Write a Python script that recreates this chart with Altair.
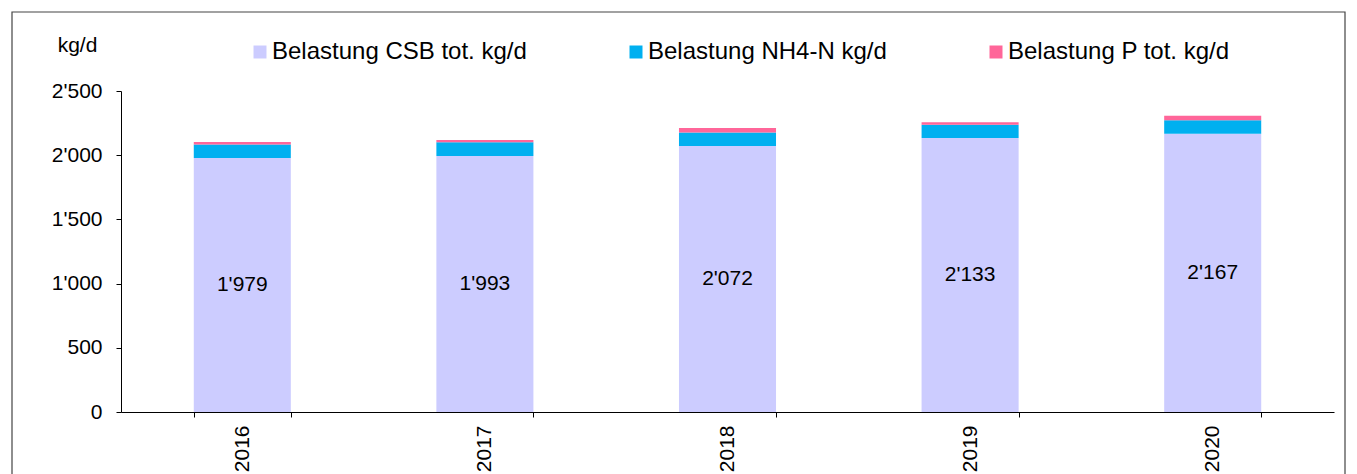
import altair as alt
import pandas as pd

years = ["2016", "2017", "2018", "2019", "2020"]
csb = [1979, 1993, 2072, 2133, 2167]
nh4 = [104, 107, 104, 104, 106]
ptot = [19, 18, 36, 19, 34]

series_names = ["Belastung CSB tot. kg/d", "Belastung NH4-N kg/d", "Belastung P tot. kg/d"]
series_colors = ["#CCCCFF", "#00B0F0", "#FF6699"]

rows = []
for i, y in enumerate(years):
    for k, (name, vals) in enumerate(zip(series_names, [csb, nh4, ptot])):
        rows.append({"year": y, "series": name, "value": vals[i], "ord": k})
df = pd.DataFrame(rows)

lab = pd.DataFrame({
    "year": years,
    "value": csb,
    "label": [f"{v:,}".replace(",", "'") for v in csb],
})

FONT = "Liberation Sans"

x_enc = alt.X(
    "year:N",
    sort=years,
    scale=alt.Scale(paddingInner=0.6, paddingOuter=0.3),
    axis=alt.Axis(
        title=None, labelAngle=-90, labelFontSize=21, labelPadding=8,
        tickSize=5, tickBand="extent", domainColor="black", tickColor="black",
        labelColor="black", labelFont=FONT,
    ),
)

bars = alt.Chart(df).mark_bar().encode(
    x=x_enc,
    y=alt.Y(
        "value:Q",
        stack="zero",
        scale=alt.Scale(domain=[0, 2500], nice=False),
        axis=alt.Axis(
            values=[0, 500, 1000, 1500, 2000, 2500],
            labelExpr="replace(format(datum.value, ','), ',', \"'\")",
            grid=False, tickSize=5, labelPadding=14, labelFontSize=21,
            labelFont=FONT, labelColor="black", domainColor="black", tickColor="black",
            title="kg/d", titleAngle=0, titleX=-44, titleY=-46, titleAlign="center",
            titleBaseline="middle", titleFontSize=21, titleFont=FONT,
            titleFontWeight="normal", titleColor="black",
        ),
    ),
    color=alt.Color(
        "series:N",
        scale=alt.Scale(domain=series_names, range=series_colors),
        legend=alt.Legend(
            title=None, orient="none", direction="horizontal",
            legendX=127, legendY=-51, symbolType="square", symbolSize=169,
            symbolStrokeWidth=0, labelFontSize=24, labelFont=FONT,
            labelColor="black", labelOffset=0, columnPadding=97, padding=0,
            labelLimit=400,
        ),
    ),
    order=alt.Order("ord:Q"),
)

texts = alt.Chart(lab).transform_calculate(
    mid="datum.value / 2"
).mark_text(fontSize=21, font=FONT, color="black").encode(
    x=alt.X("year:N", sort=years),
    y=alt.Y("mid:Q"),
    text="label:N",
)

frame = alt.Chart(alt.Data(values=[{}])).mark_rect(
    filled=False, stroke="#444444", strokeWidth=1.2
).encode(
    x=alt.value(-109), x2=alt.value(1224), y=alt.value(-79), y2=alt.value(420)
)

chart = alt.layer(frame, bars, texts).properties(
    width=1213, height=321,
    autosize=alt.AutoSizeParams(type="none"),
    padding={"left": 113, "top": 83, "right": 15, "bottom": 70},
).configure_view(stroke=None)

chart.save("out.html", embed_options={"renderer": "svg", "actions": False})
